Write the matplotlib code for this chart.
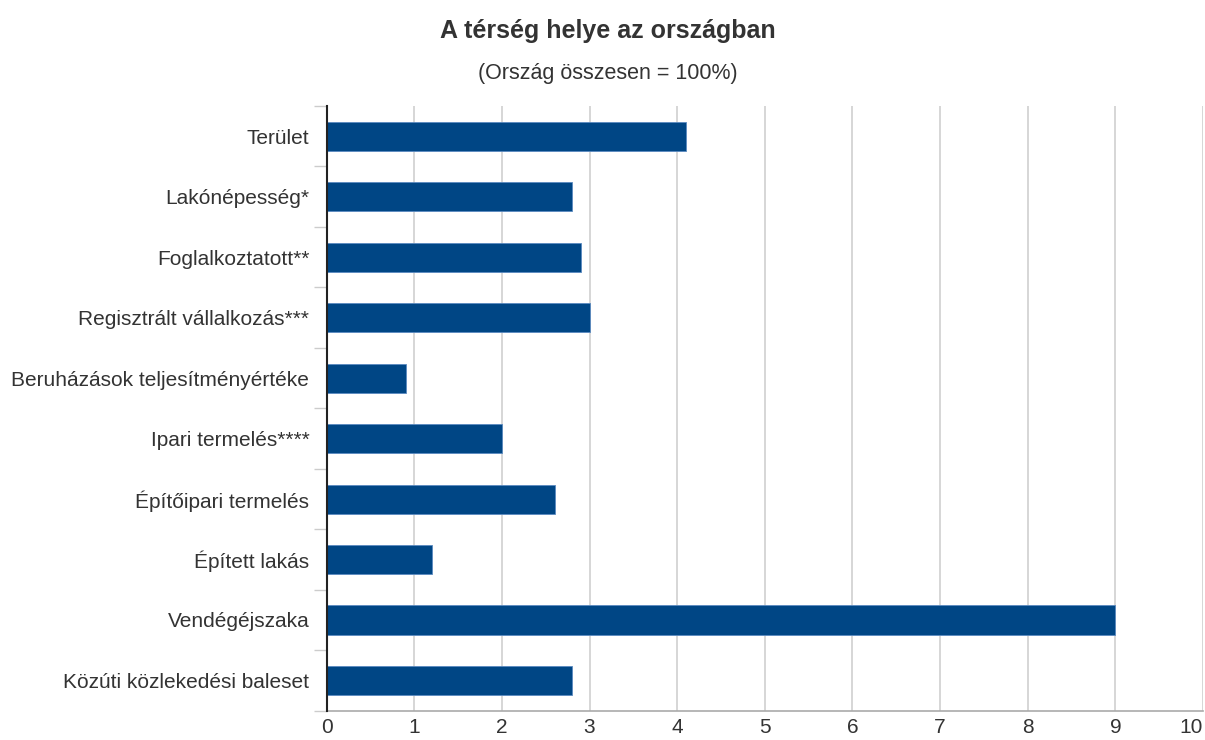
import numpy as np
import matplotlib.pyplot as plt

plt.rcParams['font.family'] = ['Liberation Sans', 'DejaVu Sans']

categories = ['Terület', 'Lakónépesség*', 'Foglalkoztatott**', 'Regisztrált vállalkozás***',
              'Beruházások teljesítményértéke', 'Ipari termelés****', 'Építőipari termelés',
              'Épített lakás', 'Vendégéjszaka', 'Közúti közlekedési baleset']
values = [4.1, 2.8, 2.9, 3.0, 0.9, 2.0, 2.6, 1.2, 9.0, 2.8]

fig = plt.figure(figsize=(12.05, 7.4), dpi=100)
ax = fig.add_axes([0.2711, 0.0396, 0.7272, 0.8172])

y = np.arange(len(categories))
ax.barh(y, values, height=0.48, color='#004685', edgecolor='#5b8ac0', linewidth=0.6, zorder=3)
ax.set_ylim(len(categories) - 0.5, -0.5)
ax.set_xlim(0, 10)
ax.set_xticks(np.arange(0, 11))
ax.set_yticks(y, categories)
ax.set_yticks(np.arange(-0.5, len(categories)), minor=True)
ax.tick_params(axis='y', which='major', length=0, pad=12.5, labelsize=15, labelcolor='#333333')
ax.tick_params(axis='y', which='minor', length=9.5, color='#cccccc', width=1)
ax.tick_params(axis='x', length=0, pad=5, labelsize=15, labelcolor='#333333')
# keep the last label inside the figure
ax.get_xticklabels()[-1].set_horizontalalignment('right')
ax.grid(axis='x', color='#d0d0d0', linewidth=1.2, zorder=0)
ax.spines['top'].set_visible(False)
ax.spines['right'].set_visible(False)
ax.spines['left'].set_color('#222222')
ax.spines['left'].set_linewidth(1.5)
ax.spines['left'].set_zorder(4)
ax.spines['bottom'].set_color('#aaaaaa')
ax.spines['bottom'].set_linewidth(1.2)

fig.text(0.5045, 0.958, 'A térség helye az országban', ha='center', va='center',
         fontsize=18, fontweight='bold', color='#333333')
fig.text(0.5045, 0.901, '(Ország összesen = 100%)', ha='center', va='center',
         fontsize=15.5, color='#333333')

fig.savefig('out.png', dpi=100)
